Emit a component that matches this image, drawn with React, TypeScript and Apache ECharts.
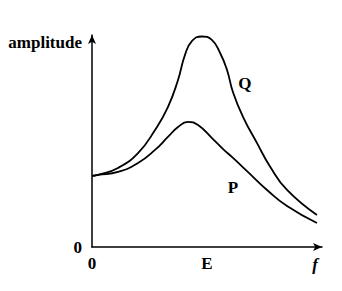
import React, { useEffect, useRef } from "react";
import * as echarts from "echarts";

const qX = [0, 0.26, 1.13, 2.0, 2.74, 3.3, 3.74, 4.04, 4.35, 4.78, 5.2, 5.57, 5.87, 6.13, 6.57, 7.17, 7.74, 8.48, 9.78];
const qY = [3.35, 3.4, 3.73, 4.43, 5.52, 6.6, 7.88, 9.05, 9.72, 9.93, 9.78, 9.15, 8.35, 7.3, 6.13, 4.91, 3.8, 2.69, 1.51];
const pX = [0, 0.26, 1.13, 2.0, 2.74, 3.3, 3.74, 4.17, 4.61, 5.26, 5.7, 6.13, 6.74, 7.61, 8.48, 9.78];
const pY = [3.35, 3.4, 3.54, 3.96, 4.58, 5.19, 5.66, 5.9, 5.75, 5.09, 4.62, 4.2, 3.58, 2.69, 1.93, 1.13];
const xTickLabels: Record<number, string> = { 0: "0", 5: "E" };
const yTickLabels: Record<number, string> = { 0: "0" };
const curveLabels = [
  { name: "Q", x: 6.65, y: 7.72 },
  { name: "P", x: 6.13, y: 2.8 },
];

const FONT = "'Liberation Serif', 'DejaVu Serif', serif";

export default function App() {
  const ref = useRef<HTMLDivElement>(null);
  useEffect(() => {
    if (!ref.current) return;
    const chart = echarts.init(ref.current, undefined, { renderer: "svg" });
    const lineStyle = { color: "#000", width: 1.8 };
    const labelStyle = { fontFamily: FONT, fontWeight: "bold" as const, fontSize: 17, color: "#000" };
    chart.setOption({
      animation: false,
      backgroundColor: "#fff",
      grid: { left: 92, right: 20, top: 35, bottom: 44 },
      xAxis: {
        type: "value",
        min: 0,
        max: 10,
        interval: 5,
        name: "f",
        nameLocation: "end",
        nameGap: -7,
        nameTextStyle: { ...labelStyle, fontStyle: "italic", align: "center", verticalAlign: "top", padding: [9, 0, 0, 0] },
        axisLine: { show: true, lineStyle: { color: "#000", width: 1.5 }, symbol: ["none", "arrow"], symbolSize: [6, 9] },
        axisTick: { show: false },
        splitLine: { show: false },
        axisLabel: { ...labelStyle, margin: 8, formatter: (v: number) => xTickLabels[v] ?? "" },
      },
      yAxis: {
        type: "value",
        min: 0,
        max: 10,
        interval: 10,
        name: "amplitude",
        nameLocation: "end",
        nameGap: -7,
        nameTextStyle: { ...labelStyle, align: "right", verticalAlign: "middle", padding: [0, 10, 0, 0] },
        axisLine: { show: true, lineStyle: { color: "#000", width: 1.5 }, symbol: ["none", "arrow"], symbolSize: [6, 9] },
        axisTick: { show: false },
        splitLine: { show: false },
        axisLabel: { ...labelStyle, margin: 10, formatter: (v: number) => yTickLabels[v] ?? "" },
      },
      series: [
        {
          name: "Q",
          type: "line",
          smooth: true,
          showSymbol: false,
          lineStyle,
          data: qX.map((x, i) => [x, qY[i]]),
          markPoint: {
            symbol: "circle",
            symbolSize: 0,
            label: { show: true, position: "inside", formatter: (p: any) => p.name, ...labelStyle },
            data: curveLabels.map((c) => ({ name: c.name, coord: [c.x, c.y] })),
          },
        },
        {
          name: "P",
          type: "line",
          smooth: true,
          showSymbol: false,
          lineStyle,
          data: pX.map((x, i) => [x, pY[i]]),
        },
      ],
    });
    return () => chart.dispose();
  }, []);
  return <div ref={ref} style={{ position: "absolute", left: 0, top: 0, width: 342, height: 291 }} />;
}
